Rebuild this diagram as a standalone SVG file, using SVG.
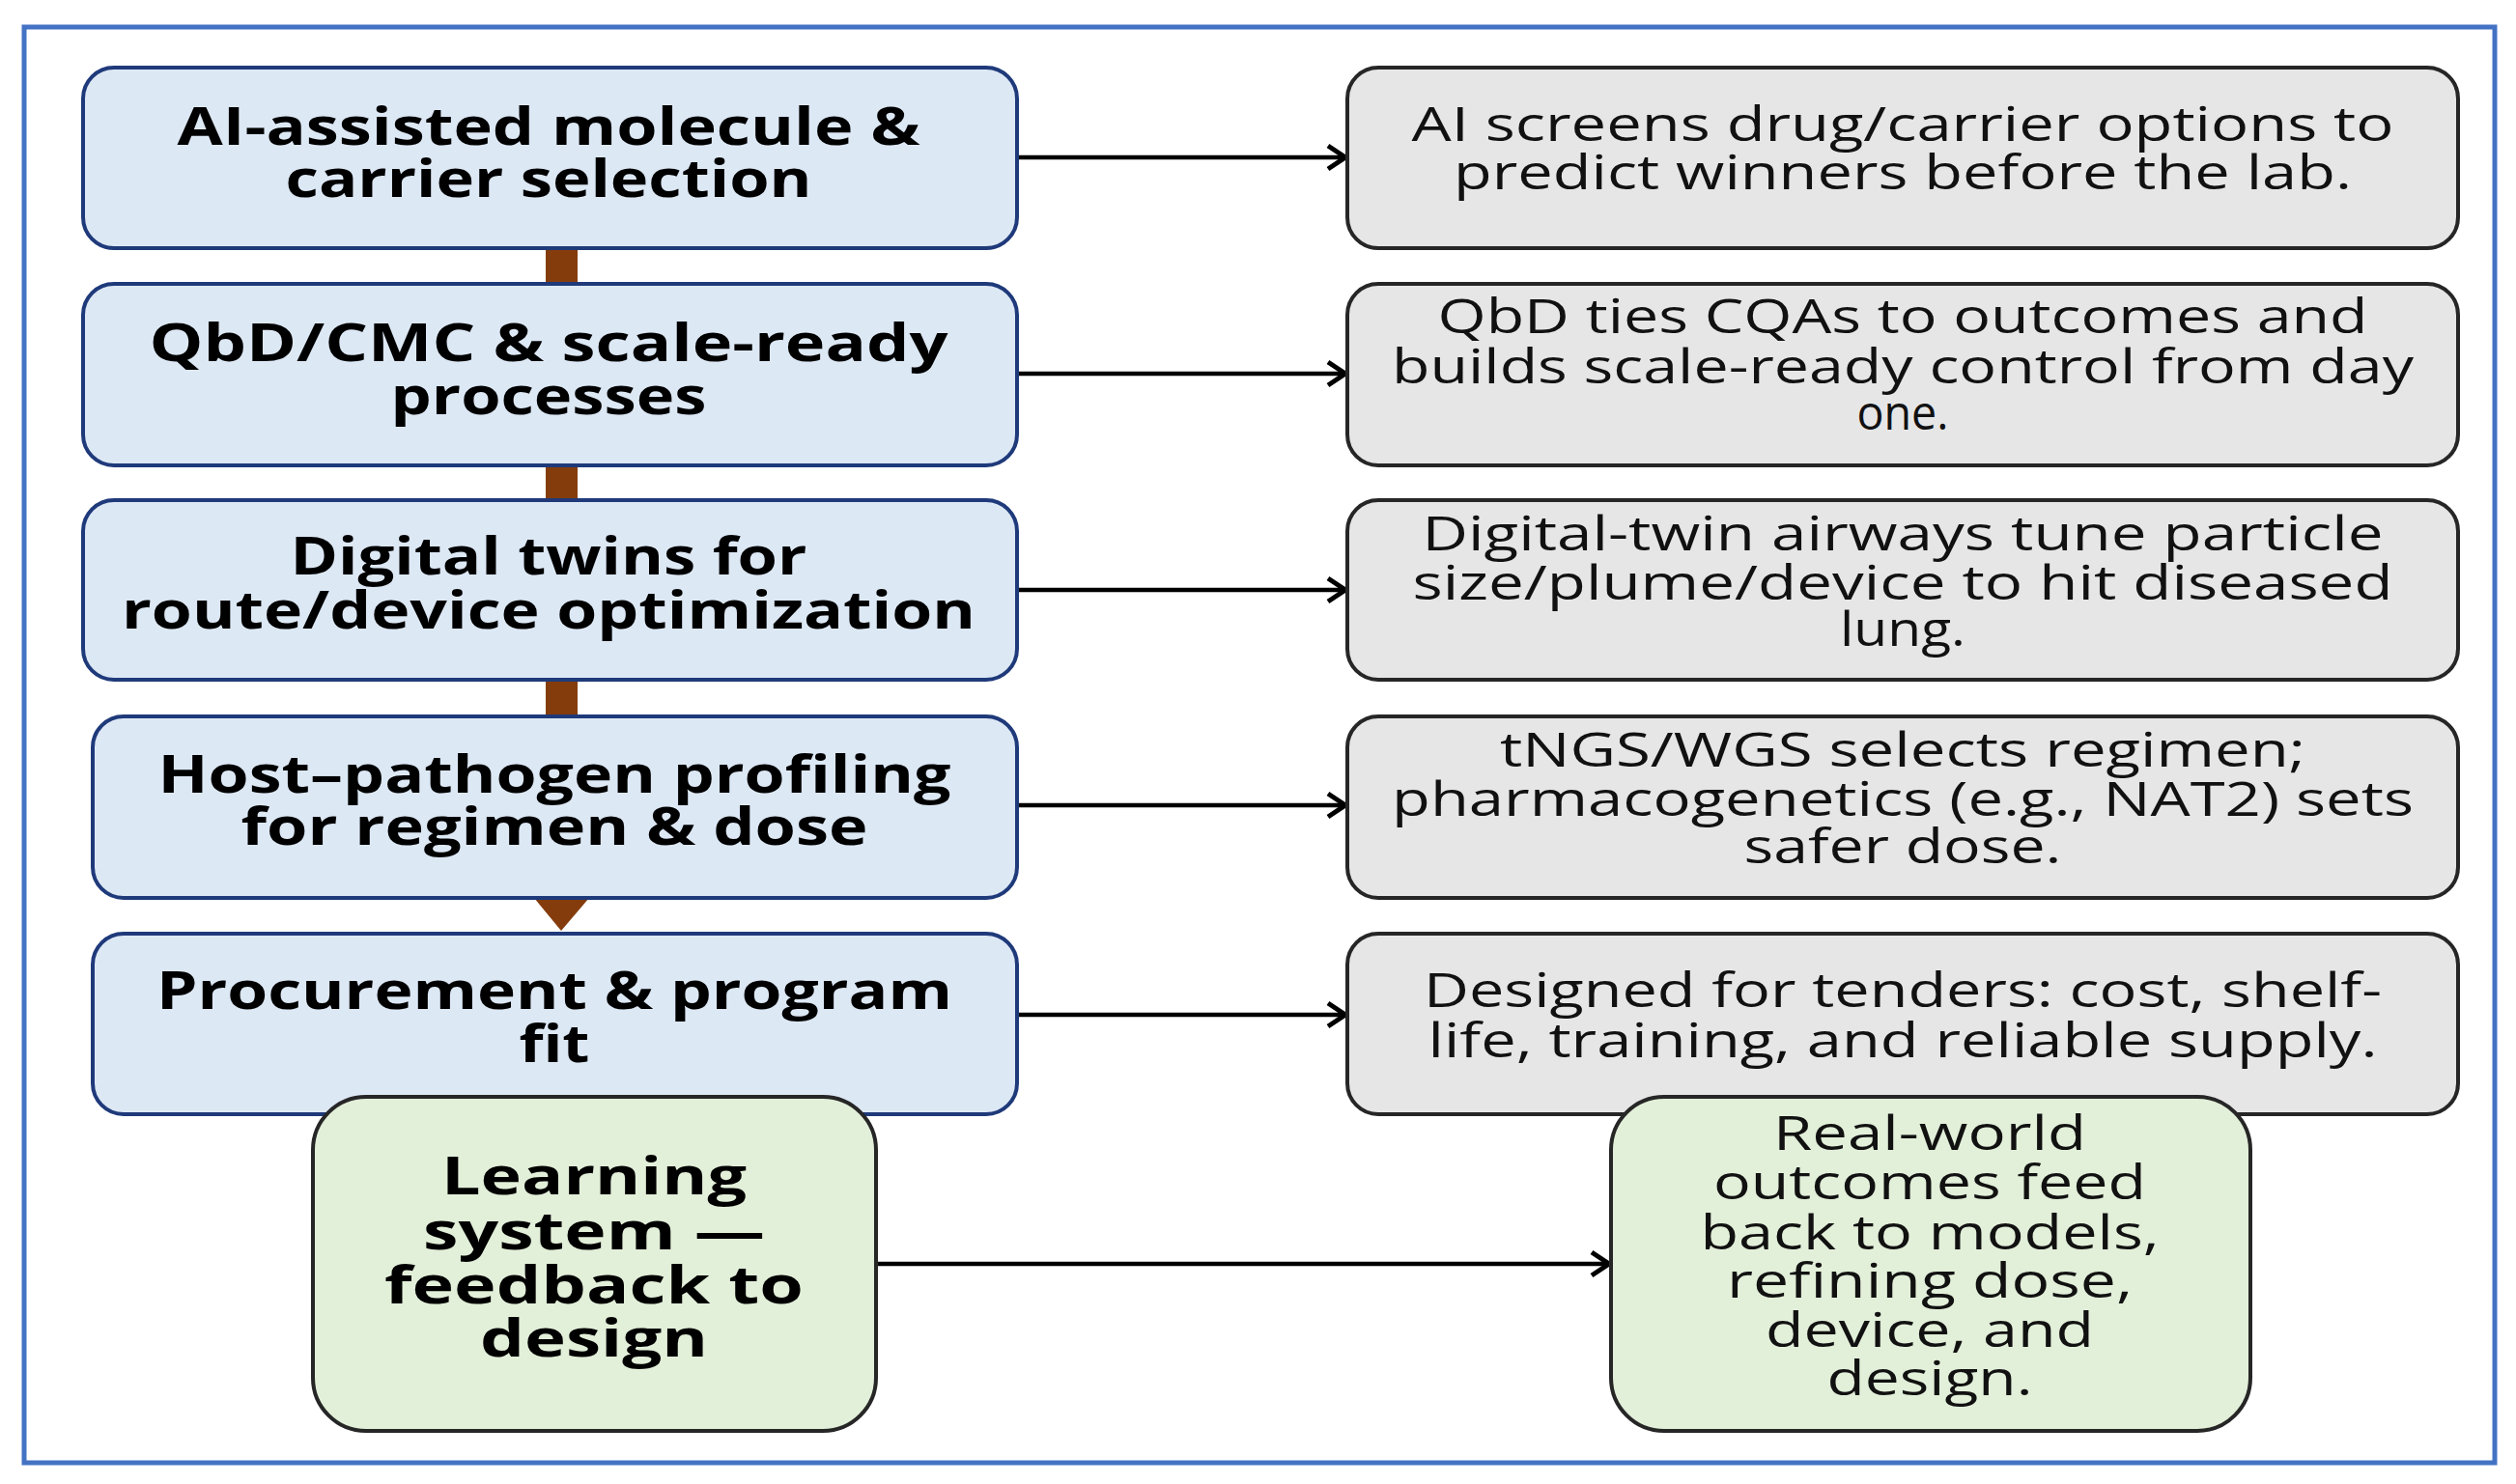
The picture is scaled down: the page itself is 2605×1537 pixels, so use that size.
<svg xmlns="http://www.w3.org/2000/svg" width="2605" height="1537" viewBox="0 0 2605 1537">
<style>
.lb{fill:#dde8f5;stroke:#1f3a7a;stroke-width:4}
.rb{fill:#e6e6e6;stroke:#262626;stroke-width:4}
.gb{fill:#e2efd9;stroke:#262626;stroke-width:4}
.lt{font-family:"Open Sans",sans-serif;font-weight:bold;font-size:54px;fill:#000;text-anchor:middle}
.rt{font-family:"Open Sans",sans-serif;font-size:49px;fill:#111;text-anchor:middle}
.c{stroke:#000;stroke-width:4.5;fill:none;marker-end:url(#ah)}
.br{fill:#843c0c}
</style>
<defs><marker id="ah" markerWidth="24" markerHeight="30" refX="21" refY="15" orient="auto" markerUnits="userSpaceOnUse" viewBox="0 0 24 30"><path d="M3,3 L21,15 L3,27" fill="none" stroke="#000" stroke-width="5"/></marker></defs>
<rect x="0" y="0" width="2605" height="1537" fill="#fff"/>
<rect x="25" y="28" width="2558" height="1487" fill="#fff" stroke="#4472c4" stroke-width="5"/>
<g id="connectors">
<rect class="br" x="565" y="257" width="33" height="37"/>
<rect class="br" x="565" y="482" width="33" height="36"/>
<rect class="br" x="565" y="704" width="33" height="38"/>
<polygon class="br" points="553,930 610,930 581,964"/>
<path class="c" d="M1053,163 H1393"/>
<path class="c" d="M1053,387 H1393"/>
<path class="c" d="M1053,611 H1393"/>
<path class="c" d="M1053,834 H1393"/>
<path class="c" d="M1053,1051 H1393"/>
<path class="c" d="M907,1309 H1666"/>
</g>
<g id="l1"><rect class="lb" x="86" y="70" width="967" height="187" rx="32"/><text class="lt" x="568" y="150" textLength="769" lengthAdjust="spacingAndGlyphs">AI-assisted molecule &amp;</text><text class="lt" x="568" y="204" textLength="545" lengthAdjust="spacingAndGlyphs">carrier selection</text></g>
<g id="l2"><rect class="lb" x="86" y="294" width="967" height="188" rx="32"/><text class="lt" x="568" y="374" textLength="827" lengthAdjust="spacingAndGlyphs">QbD/CMC &amp; scale-ready</text><text class="lt" x="568" y="429" textLength="327" lengthAdjust="spacingAndGlyphs">processes</text></g>
<g id="l3"><rect class="lb" x="86" y="518" width="967" height="186" rx="32"/><text class="lt" x="568" y="595" textLength="535" lengthAdjust="spacingAndGlyphs">Digital twins for</text><text class="lt" x="568" y="651" textLength="884" lengthAdjust="spacingAndGlyphs">route/device optimization</text></g>
<g id="l4"><rect class="lb" x="96" y="742" width="957" height="188" rx="32"/><text class="lt" x="574" y="821" textLength="821" lengthAdjust="spacingAndGlyphs">Host–pathogen profiling</text><text class="lt" x="574" y="875" textLength="649" lengthAdjust="spacingAndGlyphs">for regimen &amp; dose</text></g>
<g id="l5"><rect class="lb" x="96" y="967" width="957" height="187" rx="32"/><text class="lt" x="574" y="1045" textLength="824" lengthAdjust="spacingAndGlyphs">Procurement &amp; program</text><text class="lt" x="574" y="1100" textLength="73" lengthAdjust="spacingAndGlyphs">fit</text></g>
<g id="g1"><rect class="gb" x="324" y="1136" width="583" height="346" rx="55"/><text class="lt" x="615" y="1237" textLength="316" lengthAdjust="spacingAndGlyphs">Learning</text><text class="lt" x="615" y="1294" textLength="354" lengthAdjust="spacingAndGlyphs">system —</text><text class="lt" x="615" y="1350" textLength="434" lengthAdjust="spacingAndGlyphs">feedback to</text><text class="lt" x="615" y="1405" textLength="236" lengthAdjust="spacingAndGlyphs">design</text></g>
<g id="r1"><rect class="rb" x="1395" y="70" width="1150" height="187" rx="32"/><text class="rt" x="1970" y="146" textLength="1017" lengthAdjust="spacingAndGlyphs">AI screens drug/carrier options to</text><text class="rt" x="1970" y="196" textLength="930" lengthAdjust="spacingAndGlyphs">predict winners before the lab.</text></g>
<g id="r2"><rect class="rb" x="1395" y="294" width="1150" height="188" rx="32"/><text class="rt" x="1970" y="345" textLength="963" lengthAdjust="spacingAndGlyphs">QbD ties CQAs to outcomes and</text><text class="rt" x="1970" y="397" textLength="1058" lengthAdjust="spacingAndGlyphs">builds scale-ready control from day</text><text class="rt" x="1970" y="445" textLength="95" lengthAdjust="spacingAndGlyphs">one.</text></g>
<g id="r3"><rect class="rb" x="1395" y="518" width="1150" height="186" rx="32"/><text class="rt" x="1970" y="570" textLength="995" lengthAdjust="spacingAndGlyphs">Digital-twin airways tune particle</text><text class="rt" x="1970" y="621" textLength="1015" lengthAdjust="spacingAndGlyphs">size/plume/device to hit diseased</text><text class="rt" x="1970" y="669" textLength="130" lengthAdjust="spacingAndGlyphs">lung.</text></g>
<g id="r4"><rect class="rb" x="1395" y="742" width="1150" height="188" rx="32"/><text class="rt" x="1970" y="794" textLength="834" lengthAdjust="spacingAndGlyphs">tNGS/WGS selects regimen;</text><text class="rt" x="1970" y="845" textLength="1058" lengthAdjust="spacingAndGlyphs">pharmacogenetics (e.g., NAT2) sets</text><text class="rt" x="1970" y="894" textLength="329" lengthAdjust="spacingAndGlyphs">safer dose.</text></g>
<g id="r5"><rect class="rb" x="1395" y="967" width="1150" height="187" rx="32"/><text class="rt" x="1970" y="1043" textLength="992" lengthAdjust="spacingAndGlyphs">Designed for tenders: cost, shelf-</text><text class="rt" x="1970" y="1095" textLength="983" lengthAdjust="spacingAndGlyphs">life, training, and reliable supply.</text></g>
<g id="g2"><rect class="gb" x="1668" y="1136" width="662" height="346" rx="55"/><text class="rt" x="1998" y="1191" textLength="324" lengthAdjust="spacingAndGlyphs">Real-world</text><text class="rt" x="1998" y="1242" textLength="448" lengthAdjust="spacingAndGlyphs">outcomes feed</text><text class="rt" x="1998" y="1294" textLength="475" lengthAdjust="spacingAndGlyphs">back to models,</text><text class="rt" x="1998" y="1344" textLength="420" lengthAdjust="spacingAndGlyphs">refining dose,</text><text class="rt" x="1998" y="1395" textLength="340" lengthAdjust="spacingAndGlyphs">device, and</text><text class="rt" x="1998" y="1445" textLength="213" lengthAdjust="spacingAndGlyphs">design.</text></g>
</svg>
